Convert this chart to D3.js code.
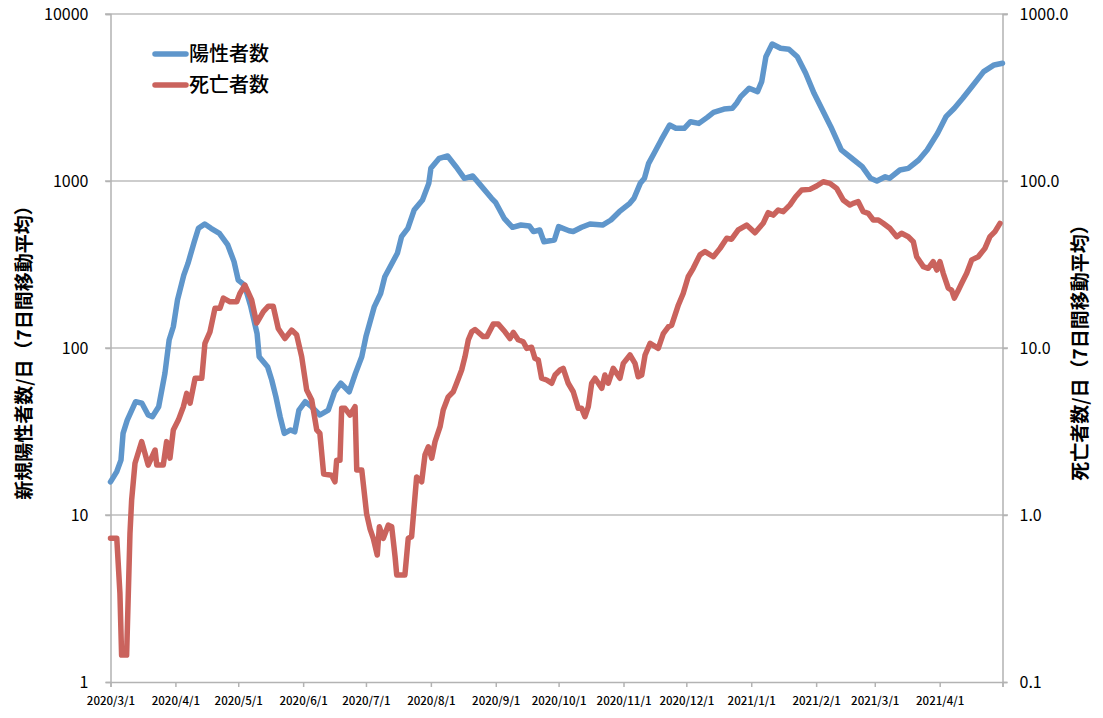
<!DOCTYPE html>
<html>
<head>
<meta charset="utf-8">
<script src="https://cdn.jsdelivr.net/npm/d3@7"></script>
<style>
  body { margin: 0; background: #fff; }
  svg text { font-family: "Noto Sans CJK JP", "Noto Sans", sans-serif; fill: #000; }
</style>
</head>
<body>
<svg width="1103" height="718"></svg>
<script>
// days counted from 2020/3/1
var caseDays = [0, 3, 5, 6, 8, 12, 15, 18, 20, 23, 26, 28, 30, 32, 35, 37, 40, 42, 45, 48, 52, 56, 59, 61, 64, 67, 70, 71, 75, 77, 79, 81, 83, 86, 88, 90, 93, 96, 100, 104, 107, 110, 114, 117, 120, 122, 126, 129, 131, 134, 137, 139, 142, 145, 149, 152, 153, 157, 161, 165, 169, 173, 176, 182, 184, 188, 192, 196, 200, 202, 205, 207, 212, 214, 219, 221, 225, 229, 235, 239, 243, 248, 250, 253, 255, 257, 260, 263, 267, 270, 274, 277, 281, 285, 288, 293, 297, 299, 301, 305, 309, 311, 313, 316, 320, 324, 328, 332, 336, 340, 344, 349, 354, 359, 363, 366, 370, 372, 377, 381, 386, 390, 395, 399, 403, 407, 412, 417, 422, 426];
var cases = [15.8, 18.2, 21.3, 30.8, 37, 47.7, 46.7, 39.7, 38.8, 44.5, 70.6, 111.6, 134, 194, 273, 321, 433, 521, 553, 521, 486, 414, 329, 255, 238, 177, 122, 88.7, 77.3, 64.3, 51, 38.8, 30.8, 32.3, 31.5, 42.5, 47.7, 44.5, 39.7, 42.5, 54.7, 61.5, 54.7, 70.6, 88.7, 117, 177, 212, 267, 314, 369, 464, 521, 670, 770, 968, 1191, 1367, 1412, 1218, 1038, 1071, 968, 788, 741, 598, 528, 545, 538, 498, 509, 433, 443, 533, 504, 498, 528, 553, 545, 584, 655, 735, 788, 968, 1038, 1276, 1497, 1762, 2163, 2068, 2068, 2265, 2213, 2404, 2575, 2698, 2725, 2918, 3200, 3590, 3428, 3935, 5550, 6610, 6230, 6150, 5550, 4415, 3350, 2661, 2115, 1535, 1368, 1218, 1038, 1000, 1061, 1038, 1164, 1191, 1336, 1535, 1931, 2428, 2725, 3128, 3757, 4518, 4955, 5070];

var deathDays = [0, 3, 4.5, 5.3, 7.7, 9.3, 10.1, 11.7, 14.9, 18, 21.3, 22.1, 25.2, 26.8, 28.4, 30, 32.4, 34.8, 36.4, 38, 40.4, 43.6, 45.1, 47.5, 49.9, 52.3, 53.9, 57.1, 60.3, 61.8, 64.2, 67.4, 69.8, 73, 75.4, 77.7, 80.1, 83.3, 86.5, 88.9, 91.3, 93.7, 96.1, 98.5, 100, 101.8, 105.6, 107.2, 108, 109.6, 110.4, 112, 114.4, 116.8, 117.6, 120, 122.3, 123.9, 125.5, 127.4, 128.4, 130.3, 132.7, 134.3, 135.9, 136.7, 140.6, 142.2, 143.8, 146.2, 148.6, 150.2, 151.8, 153.4, 155, 157.4, 158.9, 161.3, 163.7, 165.3, 167.7, 169.3, 170.9, 172.5, 174.1, 178, 179.7, 182.8, 185.2, 188.4, 190.8, 192.4, 194.7, 197.1, 198.8, 201.1, 202.7, 204.3, 205.9, 208.3, 210.7, 212.3, 214.7, 216.2, 218.6, 221, 223.4, 225, 226.6, 228.2, 229.8, 231.4, 234.6, 236.1, 237.7, 240.1, 243.3, 244.9, 248.1, 250.5, 252, 253.7, 255.3, 257.7, 261.6, 264, 266.4, 268, 271.2, 273.5, 275.9, 278.3, 281.5, 283.9, 287.9, 291.1, 294.3, 296.6, 299.8, 303.8, 307.8, 311.7, 314.1, 316.5, 318.9, 321.3, 324.5, 327.2, 330.1, 334, 337.2, 340.4, 343.6, 346.8, 349.9, 353.1, 354.7, 357.1, 359.5, 361.9, 364.3, 366.7, 369, 372.2, 375.5, 377.8, 381, 383.4, 385, 388.2, 390.5, 392.9, 394.6, 396.1, 397.7, 400.1, 401.7, 403, 404.9, 406.5, 408.9, 411.3, 414.4, 417.6, 420, 422.4, 424.8];
var deaths = [0.725, 0.725, 0.34, 0.145, 0.145, 0.777, 1.23, 2.04, 2.75, 1.99, 2.45, 1.99, 1.99, 2.75, 2.19, 3.23, 3.7, 4.45, 5.35, 4.67, 6.59, 6.59, 10.67, 12.5, 17.3, 17.3, 19.9, 18.9, 18.9, 21.2, 23.8, 19.4, 14.1, 16.5, 17.8, 17.8, 13.1, 11.4, 12.8, 12.0, 8.87, 5.6, 4.88, 3.23, 3.08, 1.76, 1.73, 1.58, 2.13, 2.13, 4.35, 4.35, 3.97, 4.45, 1.86, 1.86, 1.02, 0.83, 0.725, 0.576, 0.85, 0.725, 0.87, 0.85, 0.563, 0.437, 0.437, 0.725, 0.741, 1.69, 1.58, 2.29, 2.56, 2.19, 2.75, 3.38, 4.25, 5.1, 5.47, 6.15, 7.38, 8.87, 11.2, 12.5, 12.9, 11.7, 11.7, 13.9, 13.9, 12.5, 11.4, 12.4, 11.2, 10.9, 9.95, 10.1, 8.67, 8.47, 6.59, 6.43, 6.15, 6.89, 7.38, 7.55, 6.15, 5.47, 4.35, 4.35, 3.88, 4.45, 6.15, 6.59, 5.74, 6.89, 6.15, 7.55, 6.59, 8.09, 9.08, 8.09, 6.73, 6.89, 9.08, 10.67, 9.95, 12.2, 13.4, 13.7, 18.1, 21.2, 26.7, 30, 36.1, 37.8, 35.2, 39.5, 45.4, 44.8, 50.9, 54.5, 49, 55.8, 64.6, 62.5, 67, 65.5, 72, 80.5, 88.3, 89.1, 93.3, 99, 96.8, 90.3, 77, 71.8, 73.5, 75.2, 65.5, 64, 58.4, 58.4, 55.8, 52.1, 46.4, 48.6, 46.4, 43.3, 35.2, 30.7, 30, 32.9, 29.3, 32.9, 28, 22.8, 22.2, 19.9, 22.2, 24.4, 28, 33.7, 35.2, 39.5, 46.4, 49.8, 55.8];

var leftTicks = [1, 10, 100, 1000, 10000];
var rightTicks = [0.1, 1, 10, 100, 1000];
var seriesNames = ["陽性者数", "死亡者数"];
var colors = ["#5f96cb", "#ca635d"];

var start = new Date(2020, 2, 1),
    end = new Date(2021, 4, 1);

var svg = d3.select("svg");

var x = d3.scaleTime().domain([start, end]).range([110.5, 1002.5]);
var yL = d3.scaleLog().domain([1, 10000]).range([682, 14]);
var yR = d3.scaleLog().domain([0.1, 1000]).range([682, 14]);

function dayX(d) { return x(new Date(start.getTime() + d * 864e5)); }

// gridlines
svg.append("g").selectAll("line")
    .data(leftTicks.slice(1))
    .enter().append("line")
    .attr("x1", 105).attr("x2", 1008)
    .attr("y1", function (d) { return yL(d); })
    .attr("y2", function (d) { return yL(d); })
    .attr("stroke", "#bdbdbd").attr("stroke-width", 1.5);

// left axis
var gl = svg.append("g").attr("transform", "translate(110.5,0)")
    .call(d3.axisLeft(yL).tickValues(leftTicks).tickFormat(d3.format("d")).tickSize(5).tickPadding(17));
// right axis
var gr = svg.append("g").attr("transform", "translate(1002.5,0)")
    .call(d3.axisRight(yR).tickValues(rightTicks).tickFormat(d3.format(".1f")).tickSize(5).tickPadding(12));
// bottom axis
var gb = svg.append("g").attr("transform", "translate(0,682)")
    .call(d3.axisBottom(x).ticks(d3.timeMonth.every(1)).tickFormat(function (d) {
        return +d >= +end ? "" : d3.timeFormat("%Y/%-m/%-d")(d);
    }).tickSize(5).tickPadding(10));

[gl, gr, gb].forEach(function (g) {
    g.select(".domain").attr("stroke", "#b3b3b3").attr("stroke-width", 1.5);
    g.selectAll(".tick line").attr("stroke", "#b3b3b3").attr("stroke-width", 1.5);
    g.selectAll("text").attr("font-family", "'Noto Sans CJK JP', sans-serif").attr("fill", "#000");
});
gl.selectAll("text").attr("font-size", 16);
gr.selectAll("text").attr("font-size", 16);
gb.selectAll("text").attr("font-size", 11.5).attr("font-weight", 500);

// series
var line = d3.line()
    .x(function (d) { return dayX(d[0]); })
    .y(function (d) { return d[2](d[1]); });

var series = [
    d3.zip(caseDays, cases).map(function (p) { return [p[0], p[1], yL]; }),
    d3.zip(deathDays, deaths).map(function (p) { return [p[0], p[1], yR]; })
];

svg.append("g").selectAll("path")
    .data(series)
    .enter().append("path")
    .attr("d", line)
    .attr("fill", "none")
    .attr("stroke", function (d, i) { return colors[i]; })
    .attr("stroke-width", 5.5)
    .attr("stroke-linejoin", "round")
    .attr("stroke-linecap", "round");

// axis titles
svg.append("text")
    .attr("transform", "translate(31,348) rotate(-90)")
    .attr("text-anchor", "middle")
    .attr("font-size", 19).attr("font-weight", "bold")
    .text("新規陽性者数/日（7日間移動平均）");
svg.append("text")
    .attr("transform", "translate(1087,348) rotate(-90)")
    .attr("text-anchor", "middle")
    .attr("font-size", 19).attr("font-weight", "bold")
    .text("死亡者数/日（7日間移動平均）");

// legend
var lg = svg.append("g").selectAll("g")
    .data(seriesNames)
    .enter().append("g")
    .attr("transform", function (d, i) { return "translate(155," + (54 + i * 31) + ")"; });
lg.append("line")
    .attr("x1", 0).attr("x2", 31)
    .attr("stroke", function (d, i) { return colors[i]; })
    .attr("stroke-width", 5.5).attr("stroke-linecap", "round");
lg.append("text")
    .attr("x", 34).attr("dy", "0.36em")
    .attr("font-size", 20).attr("font-weight", 500)
    .text(function (d) { return d; });
</script>
</body>
</html>
